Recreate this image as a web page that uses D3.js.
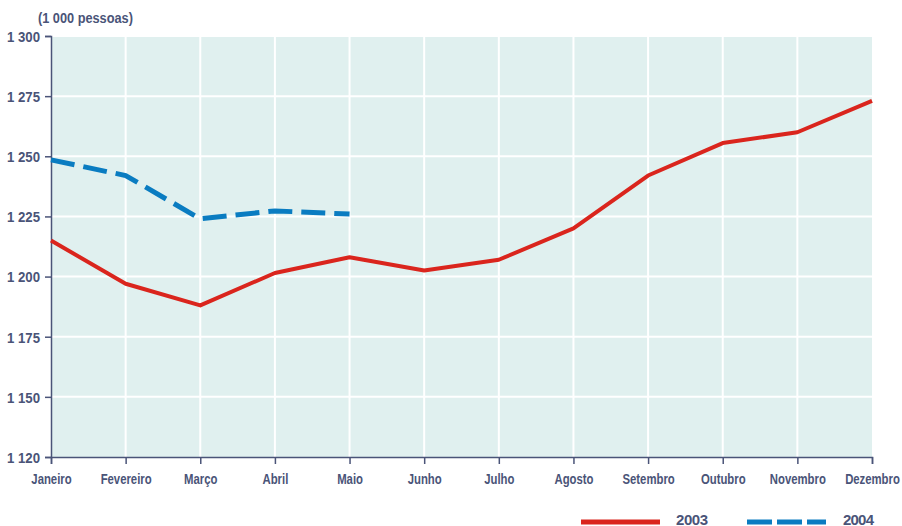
<!DOCTYPE html>
<html lang="pt">
<head>
<meta charset="UTF-8">
<title>Pessoas 2003-2004</title>
<script src="https://d3js.org/d3.v7.min.js"></script>
<style>
    body{ margin:0; background:#fff; }
    text{ font-family:"Liberation Sans",Arial,sans-serif; font-weight:bold; fill:#4a5478; }
</style>
</head>
<body>
<svg width="902" height="526"></svg>
<script>
    // data
    const months = ["Janeiro","Fevereiro","Março","Abril","Maio","Junho","Julho","Agosto","Setembro","Outubro","Novembro","Dezembro"];
    const values2003 = [1215, 1197, 1188, 1201.5, 1208, 1202.5, 1207, 1220, 1242, 1255.5, 1260, 1273];
    const values2004 = [1248.5, 1242, 1224, 1227.3, 1226];
    const yTicks = [1125, 1150, 1175, 1200, 1225, 1250, 1275, 1300];
    const yLabels = ["1 120", "1 150", "1 175", "1 200", "1 225", "1 250", "1 275", "1 300"];

    const svg = d3.select("svg");
    const plotL = 51, plotR = 872, plotT = 36, plotB = 457;
    const axisColor = "#4a5478";

    const x = d3.scalePoint().domain(months).range([plotL, plotR]);
    const y = d3.scaleLinear().domain([1125, 1300]).range([plotB, plotT]);

    // narrow the text, the original uses a condensed face
    function squeeze(sel, k) {
        sel.each(function () {
            const w = this.getComputedTextLength();
            d3.select(this).attr("textLength", w * k).attr("lengthAdjust", "spacingAndGlyphs");
        });
    }

    // plot background
    svg.append("rect")
        .attr("x", plotL).attr("y", plotT)
        .attr("width", plotR - plotL).attr("height", plotB - plotT)
        .attr("fill", "#e0f0ef");

    // grid
    svg.append("g").selectAll("line").data(months.slice(1, -1)).join("line")
        .attr("x1", d => x(d)).attr("x2", d => x(d))
        .attr("y1", plotT).attr("y2", plotB)
        .attr("stroke", "#fff").attr("stroke-width", 2);
    svg.append("g").selectAll("line").data(yTicks.slice(1)).join("line")
        .attr("x1", plotL).attr("x2", plotR)
        .attr("y1", d => y(d)).attr("y2", d => y(d))
        .attr("stroke", "#fff").attr("stroke-width", 2);

    // y axis
    const yAxis = svg.append("g")
        .attr("transform", `translate(${plotL},0)`)
        .call(d3.axisLeft(y).tickValues(yTicks).tickSize(6).tickPadding(5)
            .tickFormat((d, i) => yLabels[i]));
    yAxis.attr("font-family", null).attr("font-size", null);
    yAxis.select(".domain").attr("stroke", axisColor).attr("stroke-width", 1.5);
    yAxis.selectAll(".tick line").attr("stroke", axisColor).attr("stroke-width", 1.5);
    yAxis.selectAll(".tick text").attr("font-size", 15).attr("fill", axisColor)
        .attr("dy", "0.36em")
        .call(squeeze, 0.88);

    // x axis
    const xAxis = svg.append("g")
        .attr("transform", `translate(0,${plotB})`)
        .call(d3.axisBottom(x).tickSize(7).tickPadding(10));
    xAxis.attr("font-family", null).attr("font-size", null);
    xAxis.select(".domain").attr("stroke", axisColor).attr("stroke-width", 1.5);
    xAxis.selectAll(".tick line").attr("stroke", axisColor).attr("stroke-width", 1.5);
    xAxis.selectAll(".tick text").attr("font-size", 14).attr("fill", axisColor)
        .attr("transform", "scale(0.81,1)");

    // unit label
    svg.append("text").attr("x", 38).attr("y", 23)
        .attr("font-size", 14)
        .text("(1 000 pessoas)")
        .call(squeeze, 0.91);

    const line = d3.line().x((d, i) => x(months[i])).y(d => y(d));

    svg.append("path").datum(values2003)
        .attr("d", line)
        .attr("fill", "none").attr("stroke", "#da251d")
        .attr("stroke-width", 4).attr("stroke-linejoin", "round");

    svg.append("path").datum(values2004)
        .attr("d", line)
        .attr("fill", "none").attr("stroke", "#0a7cc1")
        .attr("stroke-width", 5).attr("stroke-dasharray", "24,9");

    // legend
    const legend = svg.append("g");
    legend.append("line").attr("x1", 581).attr("x2", 660).attr("y1", 522).attr("y2", 522)
        .attr("stroke", "#da251d").attr("stroke-width", 5);
    legend.append("text").attr("x", 676).attr("y", 524.5).attr("font-size", 15)
        .text("2003").attr("textLength", 32).attr("lengthAdjust", "spacing");
    legend.append("line").attr("x1", 747).attr("x2", 826).attr("y1", 522).attr("y2", 522)
        .attr("stroke", "#0a7cc1").attr("stroke-width", 5).attr("stroke-dasharray", "25,5");
    legend.append("text").attr("x", 843).attr("y", 524.5).attr("font-size", 15)
        .text("2004").attr("textLength", 31).attr("lengthAdjust", "spacing");
</script>
</body>
</html>
